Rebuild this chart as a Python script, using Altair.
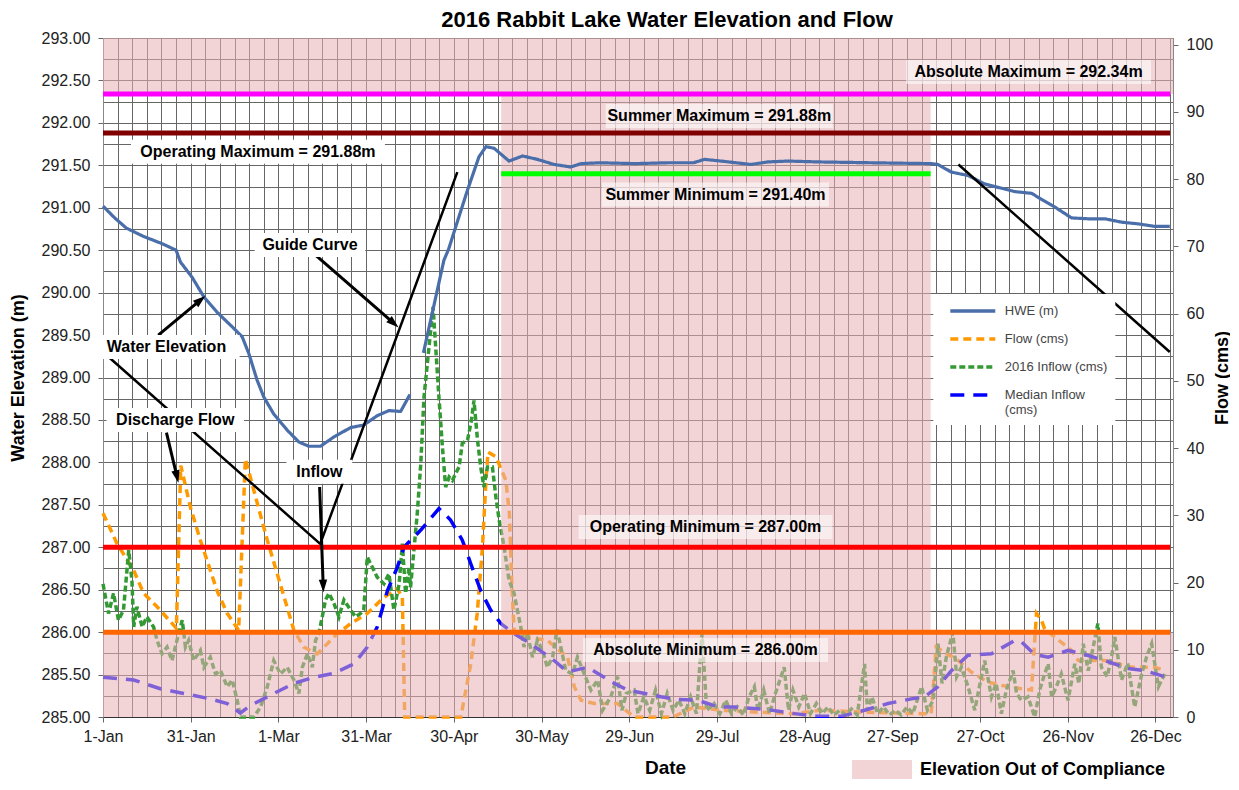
import math
import altair as alt
import pandas as pd

# ------------------------------------------------------------------ data
tick_labels = ["1-Jan", "31-Jan", "1-Mar", "31-Mar", "30-Apr", "30-May", "29-Jun",
               "29-Jul", "28-Aug", "27-Sep", "27-Oct", "26-Nov", "26-Dec"]

series_names = ["HWE (m)", "Flow (cms)", "2016 Inflow (cms)", "Median Inflow (cms)"]

# Water elevation (day of year, m); gap in mid April
hwe_a = [(0, 291.02), (4, 290.88), (8, 290.76), (14, 290.66), (20, 290.58), (25, 290.50),
         (26.5, 290.36), (30.5, 290.18), (34.5, 289.95), (39, 289.77), (44.7, 289.58),
         (47.6, 289.48), (49.9, 289.28), (52.7, 288.97), (55, 288.77), (58.4, 288.57),
         (63, 288.38), (67, 288.24), (70.4, 288.19), (74.4, 288.19), (79, 288.30),
         (84.7, 288.41), (89.2, 288.44), (93.8, 288.55), (97.8, 288.61), (101.8, 288.60),
         (105, 288.80)]
hwe_b = [(109.6, 289.29), (113.2, 289.85), (116.6, 290.38), (118.3, 290.52), (120.6, 290.77),
         (124.7, 291.21), (128.6, 291.60), (131, 291.72), (133.8, 291.70), (138.9, 291.55),
         (143.5, 291.61), (148.6, 291.57), (154.3, 291.51), (160, 291.48), (163.5, 291.52),
         (170, 291.53), (182, 291.52), (193, 291.53), (202, 291.53), (205.7, 291.57),
         (211.4, 291.55), (221.7, 291.51), (227.4, 291.54), (234.2, 291.55), (244.5, 291.54),
         (262.8, 291.53), (283.3, 291.52), (285.6, 291.51), (290.2, 291.42), (295.9, 291.38),
         (301.6, 291.28), (307.3, 291.23), (311.9, 291.19), (317.6, 291.17), (321, 291.10),
         (325.5, 291.01), (331.3, 290.88), (337, 290.87), (342.7, 290.87), (348.4, 290.83),
         (354.1, 290.81), (359.8, 290.78), (364.9, 290.78)]

# Discharge flow (day, cms)
flow_pts = [(0, 30.3), (4.8, 25.8), (10.5, 21.8), (13.9, 18.4), (18.5, 16.4), (25.1, 13.2),
            (26.6, 37.4), (29.9, 31.2), (33.3, 26.3), (39, 18.8), (42.5, 15.4), (46.4, 12.9),
            (48.7, 38.4), (51.6, 33.7), (56.2, 26.3), (61.3, 18.8), (65.3, 12.9), (68.7, 10.4),
            (73.3, 9.4), (79, 11.9), (84.7, 13.9), (90.4, 15.4), (96.1, 17.8), (100.7, 19.1),
            (102.4, 17.8), (103.2, 0), (122.4, 0), (125.8, 7.9), (128, 15.4), (129.8, 25.3),
            (131, 35.2), (131.7, 39.4), (134.4, 38.7), (137.8, 35.2), (139, 30.3), (139.8, 20.3),
            (140.6, 12.9), (145.2, 11.9), (152, 11.4), (158.9, 8.9), (161.2, 4.5), (163.5, 2.5),
            (168, 2.0), (176, 2.0), (181.7, 0), (195, 0), (202.2, 1.5), (211.4, 1.0), (225, 0.7),
            (236.5, 0.5), (245.6, 1.0), (262, 0.7), (279.9, 0.5), (283.3, 0.5), (285, 10.4),
            (286.8, 9.9), (292.5, 8.4), (297, 6.7), (302.7, 5.2), (307.3, 4.7), (314.1, 4.2),
            (317.6, 4.0), (319.3, 15.4), (321, 14.4), (322.1, 13.1), (325.5, 11.9), (331.3, 9.9),
            (333.6, 8.4), (342.7, 8.4), (351.9, 7.4), (359.8, 7.4), (363.2, 6.9)]

# 2016 inflow (day, cms)
inflow_pts = [(0, 19.8), (1.9, 15.4), (3.6, 18.4), (5.3, 14.4), (7, 15.9), (8.8, 24.8), (9.9, 20.3),
              (10.5, 13.4), (11.6, 16.4), (13.4, 13.4), (15, 14.9), (17.3, 13.4), (18.5, 11.4),
              (20.2, 9.4), (21.9, 10.4), (23.6, 8.4), (25.3, 11.4), (27.1, 14.4), (28.2, 10.4),
              (29.3, 11.4), (31, 8.4), (33.3, 9.9), (34.5, 7.4), (36.7, 8.9), (38.5, 6.4),
              (40.2, 6.9), (42.5, 4.5), (44.2, 5.5), (45.9, 2.5), (47, 0), (51.6, 0), (53.9, 1.5),
              (56.2, 4.5), (58.4, 8.4), (60.7, 6.4), (63, 7.4), (65.3, 5.5), (67, 3.5), (68.2, 7.4),
              (69.9, 9.4), (71.6, 7.4), (72.7, 11.4), (73.8, 12.4), (75, 14.9), (76.1, 17.4),
              (77.3, 18.4), (79, 16.9), (80.7, 14.9), (82.4, 17.4), (84.7, 15.9), (86.4, 14.9),
              (88.1, 15.4), (89.2, 15.9), (90.4, 23.8), (92.1, 22.3), (93.8, 20.8), (96.1, 19.8),
              (97.8, 21.3), (99.5, 15.9), (101.3, 19.8), (102.4, 25.8), (103.5, 18.4), (104.7, 22.3),
              (105.2, 19.3), (107.5, 30.3), (108.7, 37.7), (109.8, 47.6), (111.5, 55.0), (112.9, 61.0),
              (113.8, 55.0), (114.9, 47.6), (116.1, 40.2), (117.2, 34.2), (118.4, 35.7), (119.5, 35.2),
              (120.6, 36.2), (121.8, 37.2), (122.9, 40.7), (124.7, 41.2), (126, 44.1), (126.9, 47.1),
              (128.1, 41.2), (129.2, 37.2), (130.3, 34.2), (131.5, 37.2), (133.2, 37.2), (134.4, 32.7),
              (135.5, 29.3), (137.2, 25.3), (138.9, 20.3), (140.6, 18.4), (142.9, 13.4), (144, 10.4),
              (145.2, 12.4), (146.9, 8.9), (148.6, 11.4), (150.3, 9.9), (152, 7.4), (153.8, 8.9),
              (155.3, 13.0), (156.6, 10.4), (158.3, 6.9), (160.6, 6.4), (162.3, 8.9), (164.6, 6.4),
              (166.9, 4.0), (169.2, 5.5), (170.9, 1.0), (173.7, 3.0), (176, 6.0), (177.5, 1.0),
              (179, 3.5), (181.7, 4.0), (183, 0.5), (185, 3.0), (187, 1.0), (189, 4.0), (191, 0.5),
              (193, 3.5), (195, 1.0), (197, 2.5), (199, 0.5), (201, 3.0), (203, 0.5), (204.9, 12.4),
              (206.5, 1.0), (209, 2.0), (211, 0.5), (213, 2.5), (215, 0.5), (217, 1.5), (219, 0.3),
              (221, 3.0), (222.8, 4.5), (224, 1.0), (226, 4.0), (228, 0.5), (230, 3.5), (233, 7.4),
              (234.5, 1.0), (236, 4.0), (238, 1.5), (240, 3.5), (242, 0.5), (244, 2.0), (246, 0.5),
              (248, 1.5), (250, 0.3), (252, 1.0), (254, 0.3), (256, 1.2), (258, 0.3), (260.5, 7.9),
              (261.5, 1.0), (263, 3.0), (265, 0.5), (267, 1.5), (269, 0.3), (271, 1.0), (273, 0.3),
              (275, 1.5), (277, 0.5), (280, 4.5), (282, 1.0), (284, 2.5), (285.6, 10.9), (287, 5.0),
              (288.5, 9.0), (290.7, 12.6), (292, 6.0), (293.6, 7.4), (295.9, 4.5), (298.2, 1.0),
              (300, 5.0), (301.6, 8.4), (303.9, 3.0), (305.5, 5.0), (307.3, 0.5), (309, 4.0),
              (311.3, 6.9), (312.5, 3.5), (314.1, 2.5), (316.4, 3.0), (318.7, 0), (320.4, 4.0),
              (321.8, 6.0), (323.3, 7.9), (324.5, 3.0), (326.1, 4.5), (327.8, 6.4), (330.1, 2.5),
              (332.4, 7.9), (333.8, 5.0), (335.3, 10.9), (337, 6.9), (338.7, 10.4), (340.3, 13.9),
              (341.5, 7.4), (343.5, 6.0), (345, 9.0), (346.1, 11.9), (348.4, 5.5), (350.5, 8.0),
              (352.9, 1.5), (355.3, 6.4), (357, 9.0), (358.7, 10.9), (361, 4.5), (363.2, 6.4)]

# Median inflow (day, cms)
median_pts = [(0, 5.9), (10.5, 5.5), (19.6, 4.2), (27.6, 3.5), (36.7, 2.7), (42.5, 2.0), (47, 0.6),
              (50.4, 1.7), (58.4, 3.5), (65.3, 5.0), (72.1, 5.9), (79, 6.5), (85.8, 7.9), (90.4, 10.4),
              (93.8, 13.4), (97.3, 18.8), (100.7, 22.3), (103, 25.3), (108.7, 27.8), (114.9, 31.0),
              (118.9, 29.3), (122.9, 26.3), (125.8, 22.8), (129.2, 18.8), (132.6, 15.9), (136.1, 13.9),
              (140.6, 12.4), (146.3, 10.9), (154.3, 8.4), (158.9, 6.7), (165.8, 7.4), (174.9, 5.0),
              (179.5, 4.0), (190.9, 3.0), (196.6, 2.6), (203.4, 2.5), (210.3, 1.5), (216, 1.5),
              (227.4, 1.1), (236.5, 0.5), (245, 0.1), (252.5, 0.1), (260.5, 1.0), (268.5, 2.0),
              (276.5, 2.7), (281, 3.0), (285.6, 4.5), (290.2, 6.9), (295.9, 9.2), (303.9, 9.4),
              (311.9, 11.4), (314.1, 11.2), (318.7, 9.3), (323.3, 8.9), (330.1, 9.9), (335.8, 9.3),
              (342.7, 8.4), (350.7, 7.2), (356.4, 6.9), (363.2, 6.0)]

# Guide curve (day, m)
guide_a = [(0, 289.30), (74.3, 287.04), (121.2, 291.42)]
guide_b = [(292.6, 291.51), (364.9, 289.30)]

# Elevation limits
limit_names = ["Absolute Maximum", "Summer/Operating Maximum", "Summer Minimum",
               "Operating Minimum", "Absolute Minimum"]
limit_elev = [292.34, 291.88, 291.40, 287.00, 286.00]
limit_start = [0, 0, 136.2, 0, 0]
limit_end = [365, 365, 283.1, 365, 365]

# Out of compliance zones
zone_start = [0, 0, 136.2]
zone_end = [366, 366, 283.1]
zone_low = [292.34, 285.0, 286.0]
zone_high = [293.0, 286.0, 292.34]

# Annotation labels
label_text = ["Absolute Maximum = 292.34m", "Summer Maximum = 291.88m", "Operating Maximum = 291.88m",
              "Summer Minimum = 291.40m", "Guide Curve", "Water Elevation", "Discharge Flow", "Inflow",
              "Operating Minimum = 287.00m", "Absolute Minimum = 286.00m"]
label_day = [316.6, 210.8, 53.0, 209.5, 70.8, 21.7, 24.7, 74.0, 206.1, 206.1]
label_elev = [292.60, 292.08, 291.66, 291.155, 290.56, 289.36, 288.50, 287.89, 287.24, 285.79]
label_in_zone = [True, True, False, True, False, False, False, False, True, True]

# Annotation arrows (from day/elev to day/elev)
arrow_d1 = [71.6, 18.9, 21.7, 74.1]
arrow_e1 = [290.475, 289.50, 288.35, 287.71]
arrow_d2 = [101.1, 35.0, 25.8, 75.4]
arrow_e2 = [289.59, 289.96, 287.76, 286.47]

# ------------------------------------------------------------------ geometry / styles
W, H = 1070, 679
X_MAX = 366
PX_DAY = W / X_MAX
PX_M = H / 8.0
FONT = "Liberation Sans"

series_colors = ["#4a6ea9", "#ff9900", "#339933", "#0000ff"]
series_dashes = [[1, 0], [8, 5], [6, 3], [14, 9]]
limit_colors = ["#ff00ff", "#800000", "#00ff00", "#ff0000", "#ff6600"]
PINK = "#e7b1b6"

# ------------------------------------------------------------------ frames
hwe_df = pd.DataFrame(
    [{"day": d, "elev": e, "seg": "a", "series": series_names[0]} for d, e in hwe_a]
    + [{"day": d, "elev": e, "seg": "b", "series": series_names[0]} for d, e in hwe_b])

flows_df = pd.DataFrame(
    [{"day": d, "flow": v, "series": series_names[1]} for d, v in flow_pts]
    + [{"day": d, "flow": v, "series": series_names[2]} for d, v in inflow_pts]
    + [{"day": d, "flow": v, "series": series_names[3]} for d, v in median_pts])

guide_df = pd.DataFrame(
    [{"day": d, "elev": e, "seg": "a"} for d, e in guide_a]
    + [{"day": d, "elev": e, "seg": "b"} for d, e in guide_b])

limits_df = pd.DataFrame({"name": limit_names, "elev": limit_elev,
                          "x0": limit_start, "x1": limit_end})

zones_df = pd.DataFrame({"x0": zone_start, "x1": zone_end, "e0": zone_low, "e1": zone_high,
                         "zone": "Elevation Out of Compliance"})

rows = []
for t, d, e, z in zip(label_text, label_day, label_elev, label_in_zone):
    half_w = (len(t) * 0.56 * 16) / 2 + 6
    half_h = 12
    rows.append({"text": t, "day": d, "elev": e, "zone": z,
                 "x0": d - half_w / PX_DAY, "x1": d + half_w / PX_DAY,
                 "e0": e - half_h / PX_M, "e1": e + half_h / PX_M})
labels_df = pd.DataFrame(rows)

arows = []
for d1, e1, d2, e2 in zip(arrow_d1, arrow_e1, arrow_d2, arrow_e2):
    dx = (d2 - d1) * PX_DAY
    dy = -(e2 - e1) * PX_M
    L = math.hypot(dx, dy)
    ux, uy = dx / L, dy / L
    ang = math.degrees(math.atan2(dx, -dy)) % 360
    arows.append({"d1": d1, "e1": e1, "d2": d2, "e2": e2, "ang": ang,
                  "ds": d2 - 8 * ux / PX_DAY, "es": e2 + 8 * uy / PX_M})
arrows_df = pd.DataFrame(arows)

# ------------------------------------------------------------------ encodings
label_js = "[" + ",".join("'%s'" % s for s in tick_labels) + "]"
x_axis = alt.Axis(
    values=list(range(0, 366, 5)),
    labelExpr="datum.value % 30 == 0 ? " + label_js + "[datum.value / 30] : ''",
    tickOpacity={"condition": {"test": "datum.value % 30 == 0", "value": 1}, "value": 0},
    grid=True, labelFlush=False, labelOverlap=False, labelPadding=6,
    domainColor="#333", title="Date", titleFontSize=19,
    titleX=562, titleY=50, titleAlign="center", titleBaseline="middle")


def X(field):
    return alt.X(f"{field}:Q", scale=alt.Scale(domain=[0, X_MAX], nice=False, zero=False),
                 axis=x_axis)


yl_axis = alt.Axis(
    values=[285 + 0.25 * i for i in range(33)],
    labelExpr="datum.value % 0.5 == 0 ? format(datum.value, '.2f') : ''",
    tickOpacity={"condition": {"test": "datum.value % 0.5 == 0", "value": 1}, "value": 0},
    grid=True, labelOverlap=False, labelPadding=8,
    title="Water Elevation (m)", titleX=-85, titleY=H / 2, titleAngle=270,
    titleAlign="center", titleBaseline="middle")


def YL(field):
    return alt.Y(f"{field}:Q", scale=alt.Scale(domain=[285, 293], nice=False, zero=False),
                 axis=yl_axis)


yr_axis = alt.Axis(
    orient="right", values=list(range(0, 101, 10)), grid=False, labelPadding=8,
    title="Flow (cms)", titleX=49, titleY=H / 2, titleAngle=270,
    titleAlign="center", titleBaseline="middle")

series_legend = alt.Legend(
    title=None, orient="none", legendX=830.3, legendY=256, fillColor="white", padding=7.5,
    symbolType="M0,0H6", symbolSize=225, symbolStrokeWidth=3.5, symbolOffset=0,
    labelFont=FONT, labelFontSize=13, labelColor="#444", rowPadding=11, labelOffset=45,
    labelLimit=220,
    labelExpr="datum.label == 'Median Inflow (cms)' ? ['Median Inflow', '(cms)'] : datum.label")

color_enc = alt.Color("series:N", scale=alt.Scale(domain=series_names, range=series_colors),
                      legend=series_legend)
dash_enc = alt.StrokeDash("series:N", scale=alt.Scale(domain=series_names, range=series_dashes),
                          legend=series_legend)

comp_legend = alt.Legend(
    title=None, orient="none", legendX=749, legendY=702, padding=0,
    symbolType="M-1,-0.33H1V0.33H-1Z", symbolSize=3600, symbolOpacity=0.55,
    symbolStrokeWidth=0, labelFont=FONT, labelFontSize=18, labelFontWeight="bold",
    labelColor="black", labelOffset=8, labelLimit=400)

# ------------------------------------------------------------------ layers
flows = alt.Chart(flows_df).mark_line(strokeWidth=3.5).encode(
    x=X("day"),
    y=alt.Y("flow:Q", scale=alt.Scale(domain=[0, 101], nice=False, zero=True), axis=yr_axis),
    color=color_enc, strokeDash=dash_enc)

zones = alt.Chart(zones_df).mark_rect(opacity=0.55).encode(
    x=X("x0"), x2="x1", y=YL("e0"), y2="e1",
    fill=alt.Fill("zone:N", scale=alt.Scale(range=[PINK]), legend=comp_legend))

hwe = alt.Chart(hwe_df).mark_line(strokeWidth=3.2).encode(
    x=X("day"), y=YL("elev"), detail="seg:N", color=color_enc, strokeDash=dash_enc)

guide = alt.Chart(guide_df).mark_line(color="black", strokeWidth=2.5).encode(
    x=X("day"), y=YL("elev"), detail="seg:N")

limits = alt.Chart(limits_df).mark_rule(strokeWidth=5).encode(
    x=X("x0"), x2="x1", y=YL("elev"),
    stroke=alt.Stroke("name:N", scale=alt.Scale(domain=limit_names, range=limit_colors),
                      legend=None))

shafts = alt.Chart(arrows_df).mark_rule(color="black", strokeWidth=3).encode(
    x=X("d1"), x2="ds", y=YL("e1"), y2="es")

heads = alt.Chart(arrows_df).mark_point(
    shape="M0,0L0.7,2.1L-0.7,2.1Z", size=144, filled=True, color="black", opacity=1,
    strokeWidth=0).encode(
    x=X("d2"), y=YL("e2"), angle=alt.Angle("ang:Q", scale=None))

box_white = alt.Chart(labels_df).transform_filter("!datum.zone").mark_rect(
    color="white", opacity=1).encode(x=X("x0"), x2="x1", y=YL("e0"), y2="e1")
box_pink = alt.Chart(labels_df).transform_filter("datum.zone").mark_rect(
    color="white", opacity=0.55).encode(x=X("x0"), x2="x1", y=YL("e0"), y2="e1")
texts = alt.Chart(labels_df).mark_text(
    font=FONT, fontSize=16, fontWeight="bold", color="black",
    align="center", baseline="middle").encode(x=X("day"), y=YL("elev"), text="text:N")

left = alt.layer(zones, hwe, guide, limits, shafts, heads, box_white, box_pink, texts)

chart = alt.layer(flows, left).resolve_scale(y="independent").properties(
    width=W, height=H,
    title=alt.TitleParams("2016 Rabbit Lake Water Elevation and Flow", font=FONT, fontSize=22,
                          fontWeight="bold", color="black", anchor="middle", dx=29, dy=2,
                          offset=0),
    autosize=alt.AutoSizeParams(type="none"),
    padding={"left": 95, "top": 30, "right": 57, "bottom": 62},
).configure_view(stroke="#999", strokeWidth=1).configure_axis(
    labelFont=FONT, labelFontSize=16, labelColor="#222",
    titleFont=FONT, titleFontSize=18, titleFontWeight="bold", titleColor="black",
    domainColor="#888", tickColor="#666", tickSize=5,
    gridColor="#666", gridWidth=1, gridOpacity=1)

chart.save("out.html", embed_options={"renderer": "svg", "actions": False})
